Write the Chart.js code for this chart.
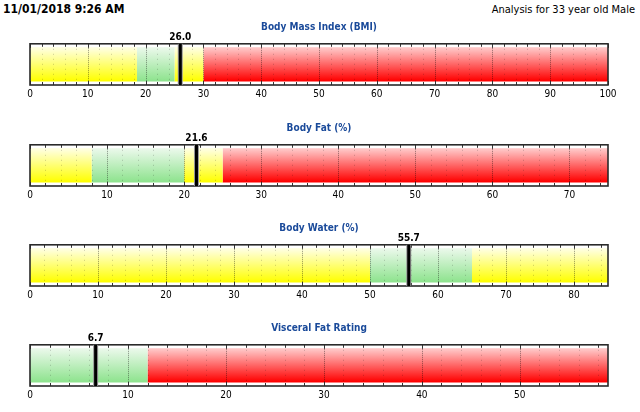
<!DOCTYPE html>
<html>
<head>
<meta charset="utf-8">
<script src="https://cdn.jsdelivr.net/npm/chart.js@4.4.1/dist/chart.umd.min.js"></script>
<style>
  body { margin: 0; background: #fff; width: 640px; height: 412px; position: relative; overflow: hidden;
         font-family: 'DejaVu Sans Condensed', 'DejaVu Sans', sans-serif; }
  #stamp { position: absolute; left: 3px; top: 2px; font-weight: bold; font-size: 12px; color: #000; }
  #who { position: absolute; right: 5px; top: 3px; font-size: 11px; color: #000; }
  .gauge { position: absolute; left: 0; width: 640px; height: 88px; }
</style>
</head>
<body>
<div id="stamp">11/01/2018 9:26 AM</div>
<div id="who">Analysis for 33 year old Male</div>
<div class="gauge" style="top:14.5px"><canvas id="g0" width="640" height="88"></canvas></div>
<div class="gauge" style="top:115.5px"><canvas id="g1" width="640" height="88"></canvas></div>
<div class="gauge" style="top:215.5px"><canvas id="g2" width="640" height="88"></canvas></div>
<div class="gauge" style="top:316px"><canvas id="g3" width="640" height="88"></canvas></div>

<script>
// --- data ---
const titles = ['Body Mass Index (BMI)', 'Body Fat (%)', 'Body Water (%)', 'Visceral Fat Rating'];
const readings = [26.0, 21.6, 55.7, 6.7];
const scaleMax = [100, 75, 85, 59];

// zone edges and what each zone means
const bmiEdges = [0, 18.5, 25, 30, 100];
const bmiZones = ['caution', 'healthy', 'caution', 'high'];
const fatEdges = [0, 8, 20, 25, 75];
const fatZones = ['caution', 'healthy', 'caution', 'high'];
const waterEdges = [0, 50, 65, 85];
const waterZones = ['caution', 'healthy', 'caution'];
const visceralEdges = [0, 12, 59];
const visceralZones = ['healthy', 'high'];

const allEdges = [bmiEdges, fatEdges, waterEdges, visceralEdges];
const allZones = [bmiZones, fatZones, waterZones, visceralZones];

// gradient colours (top -> bottom)
const zoneColors = {
    caution: ['#ffffdc', '#ffff00'],
    healthy: ['#e8f8e8', '#8ee38e'],
    high:    ['#ffc4c4', '#ff0000']
};

const FONT = "'DejaVu Sans Condensed', 'DejaVu Sans', sans-serif";
Chart.defaults.font.family = FONT;
Chart.defaults.color = '#000';

function zoneFill(kind) {
    return function(ctx) {
        const area = ctx.chart.chartArea;
        if (!area) return zoneColors[kind][1];
        const g = ctx.chart.ctx.createLinearGradient(0, area.top, 0, area.bottom);
        g.addColorStop(0, zoneColors[kind][0]);
        g.addColorStop(0.12, zoneColors[kind][0]);
        g.addColorStop(0.9, zoneColors[kind][1]);
        g.addColorStop(1, zoneColors[kind][1]);
        return g;
    };
}

// dotted grid, frame, inner tick marks, the reading marker and its label
const gaugeDecor = {
    id: 'gaugeDecor',
    afterDatasetsDraw(chart, args, opts) {
        const c = chart.ctx;
        const area = chart.chartArea;
        const xs = chart.scales.x;
        c.save();
        // dotted grid over the zones
        for (let v = 2; v < opts.max; v += 2) {
            const x = Math.round(xs.getPixelForValue(v)) + 0.5;
            const major = v % 10 === 0;
            c.strokeStyle = major ? 'rgba(0,0,0,0.42)' : 'rgba(0,0,0,0.2)';
            c.setLineDash(major ? [1, 1] : [1, 4]);
            c.lineWidth = 1;
            c.beginPath();
            c.moveTo(x, area.top);
            c.lineTo(x, area.bottom);
            c.stroke();
        }
        c.setLineDash([]);
        // tick marks on top and bottom edge
        c.strokeStyle = '#333';
        for (let v = 0; v <= opts.max; v += 2) {
            const x = Math.round(xs.getPixelForValue(v)) + 0.5;
            const len = v % 10 === 0 ? 4 : 3;
            c.beginPath();
            c.moveTo(x, area.top); c.lineTo(x, area.top + len);
            c.moveTo(x, area.bottom); c.lineTo(x, area.bottom - len);
            c.stroke();
        }
        // frame
        c.strokeStyle = '#2a2a2a';
        c.lineWidth = 1.6;
        c.strokeRect(area.left, area.top, area.right - area.left, area.bottom - area.top);
        // marker
        const mx = xs.getPixelForValue(opts.value);
        c.fillStyle = '#9a9a9a';
        c.fillRect(mx - 2.5, area.top, 5, area.bottom - area.top);
        c.fillStyle = '#000';
        c.fillRect(mx - 1.5, area.top, 3, area.bottom - area.top);
        // label
        c.font = 'bold 10px ' + FONT;
        c.textAlign = 'center';
        c.textBaseline = 'bottom';
        c.fillText(opts.value.toFixed(1), mx, area.top - 1);
        c.restore();
    }
};

function makeGauge(i) {
    const edges = allEdges[i];
    const zones = allZones[i];
    const datasets = zones.map((kind, k) => ({
        label: kind,
        data: [[edges[k], edges[k + 1]]],
        backgroundColor: zoneFill(kind),
        borderWidth: 0,
        borderSkipped: false,
        grouped: false,
        barPercentage: 1,
        categoryPercentage: 0.83
    }));
    return new Chart(document.getElementById('g' + i), {
        type: 'bar',
        data: { labels: [''], datasets: datasets },
        plugins: [gaugeDecor],
        options: {
            indexAxis: 'y',
            responsive: false,
            animation: false,
            layout: { padding: { left: 30, right: 32, top: 0, bottom: 0 } },
            plugins: {
                legend: { display: false },
                tooltip: { enabled: false },
                title: {
                    display: true,
                    text: titles[i],
                    color: '#1a4a9a',
                    font: { size: 10, weight: 'bold' },
                    padding: { top: 6, bottom: 10.8 }
                },
                gaugeDecor: { value: readings[i], max: scaleMax[i] }
            },
            scales: {
                x: {
                    type: 'linear',
                    min: 0,
                    max: scaleMax[i],
                    ticks: {
                        stepSize: 2,
                        autoSkip: false,
                        maxRotation: 0,
                        padding: 3,
                        font: { size: 10 },
                        color: '#000',
                        callback: v => (v % 10 === 0 ? String(v) : '')
                    },
                    grid: { display: false, drawTicks: false },
                    border: { display: false }
                },
                y: { display: false }
            }
        }
    });
}

for (let i = 0; i < titles.length; i++) makeGauge(i);
</script>
</body>
</html>
